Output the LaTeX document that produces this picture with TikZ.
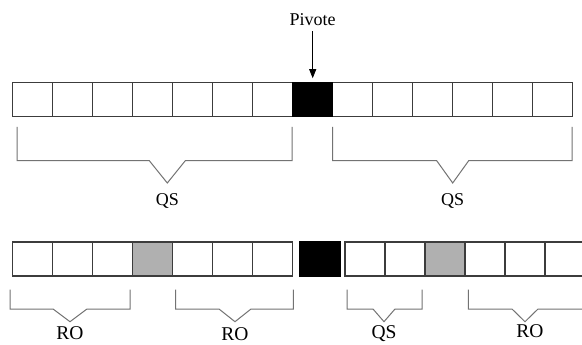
\documentclass[tikz,border=0pt]{standalone}
\usepackage{fontspec}
\setmainfont{Liberation Serif}
\usetikzlibrary{positioning,arrows.meta}
\definecolor{cline}{RGB}{60,60,60}
\definecolor{cbrace}{RGB}{115,115,115}
\definecolor{cgrey}{RGB}{176,176,176}

\begin{document}
\begin{tikzpicture}[
  x=1pt,y=-1pt,
  font=\fontsize{18}{21}\selectfont,
  cell/.style={rectangle,draw=cline,line width=1.2pt,fill=white,minimum width=40pt,minimum height=34pt,inner sep=0,outer sep=0},
  pivcell/.style={cell,fill=black,draw=black},
  greycell/.style={cell,fill=cgrey},
  brace/.style={draw=cbrace,line width=1pt},
  lbl/.style={inner sep=0},
  biglbl/.style={lbl,font=\fontsize{19.5}{22}\selectfont},
  a/.style={-{Triangle[length=9pt,width=7pt]},line width=0.8pt},
]
\clip (0,0) rectangle (582,345);
\fill[white] (0,0) rectangle (582,345);

% Top array
\foreach \i in {1,...,14}
  \node[cell] (t\i) at ({-7.3+40*\i},99.2) {};
\node[pivcell] at (t8) {};
\node[lbl] (pv) at (312.7,20) {Pivote};
\draw[a,shorten <=5pt,shorten >=4pt] (pv) -- (t8);

% Top braces
\foreach \l/\r/\m/\w in {17/292/167.3/18,332.7/572/452.7/16}
  \draw[brace] (\l,127) |- (\m-\w,160.7) -- (\m,183) -- (\m+\w,160.7) -| (\r,127);
\node[lbl] (qsl) at (167.3,201) {QS};
\node[lbl] (qsr) at (452.7,201) {QS};

% Bottom array
\foreach \i in {1,...,7}
  \node[cell] (b\i) at ({-7.3+40*\i},259) {};
\node[greycell] at (b4) {};
\node[pivcell] (bp) at (320,259) {};
\foreach \i in {1,...,6}
  \node[cell] (c\i) at ({325+40*\i},259) {};
\node[greycell] at (c3) {};

% Bottom braces
\foreach \l/\r/\m/\w in {10/130/70/17,175.7/293.3/235/16,347/422/384/11,468.3/600/525/13}
  \draw[brace] (\l,289.5) |- (\m-\w,309) -- (\m,321.7) -- (\m+\w,309) -| (\r,289.5);
\node[biglbl] (ro1) at (70,333.5) {RO};
\node[biglbl] (ro2) at (235,334.5) {RO};
\node[biglbl] (qs3) at (384,334) {QS};
\node[biglbl] (ro4) at (530,331) {RO};
\end{tikzpicture}
\end{document}
